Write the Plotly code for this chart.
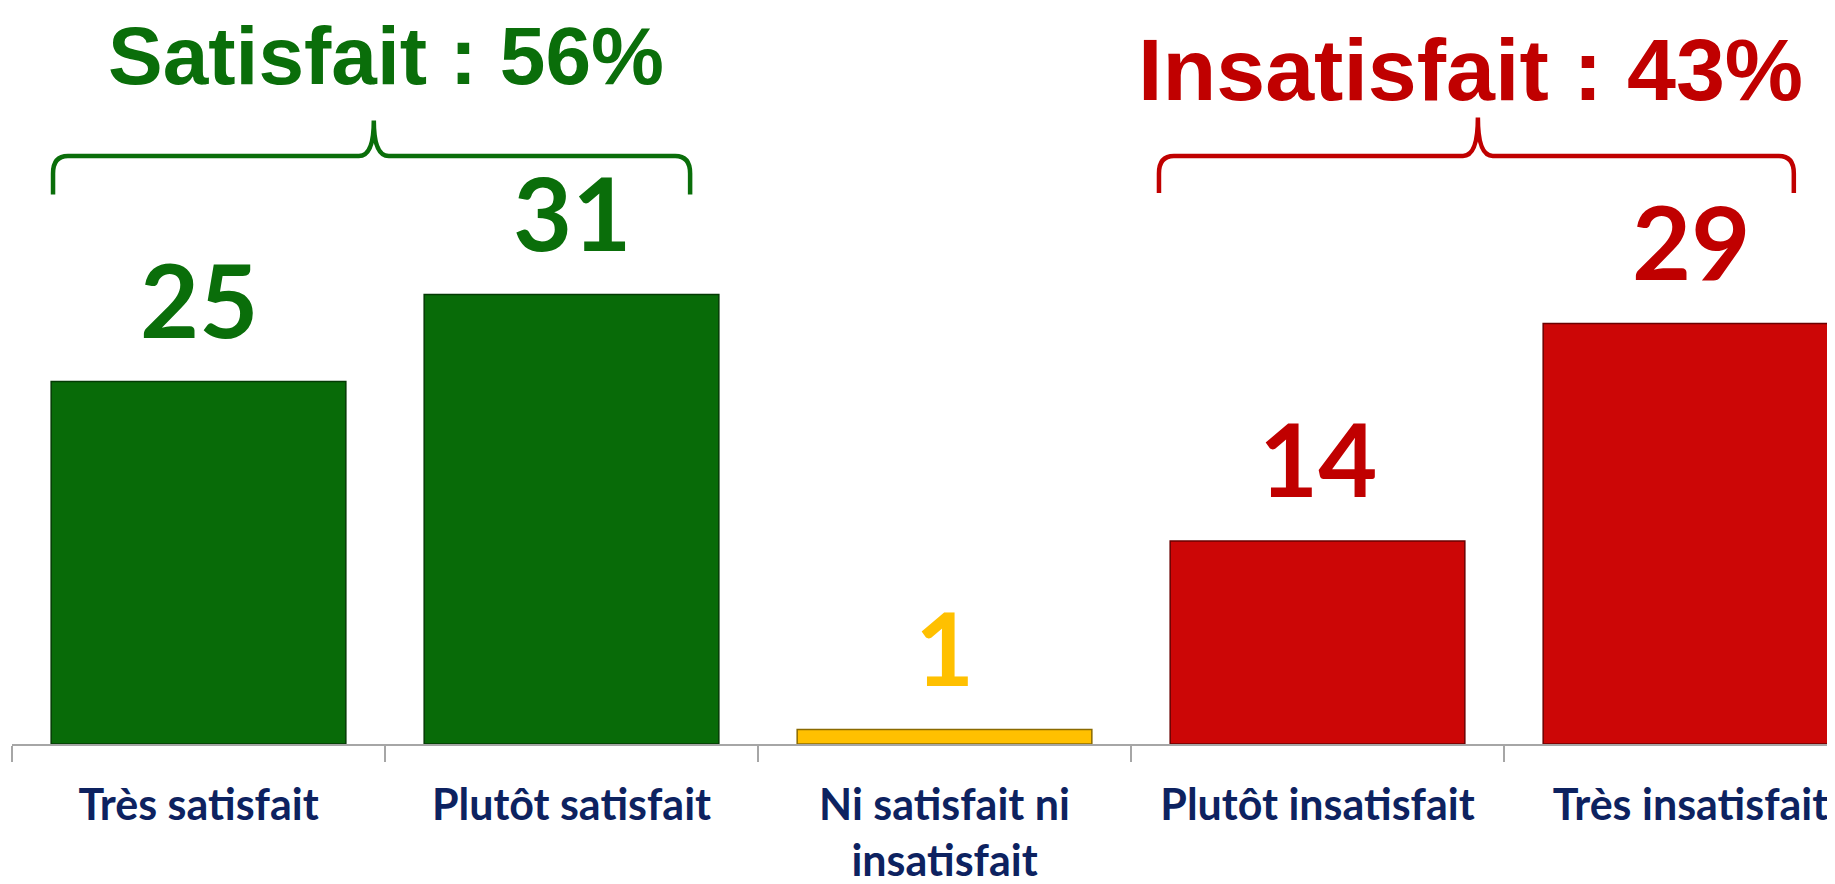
import plotly.graph_objects as go

categories = ["Très satisfait", "Plutôt satisfait", "Ni satisfait ni<br>insatisfait",
              "Plutôt insatisfait", "Très insatisfait"]
values = [25, 31, 1, 14, 29]
bar_colors = ["#086b08", "#086b08", "#ffc000", "#cc0606", "#cc0606"]
label_colors = ["#0a6e0a", "#0a6e0a", "#ffc000", "#c00000", "#c00000"]
edge_colors = ["#043a04", "#043a04", "#8a6a00", "#6a0000", "#6a0000"]
group_titles = ["Satisfait : 56%", "Insatisfait : 43%"]
group_colors = ["#0a6e0a", "#c00000"]

# page has an 8px body margin; figure sized to fill the rest of the window
PAGE_OFF = 8
W, H = 1835 - PAGE_OFF, 884 - PAGE_OFF
L = 12 - PAGE_OFF
AXIS_PAGE_Y = 744
B = H - (AXIS_PAGE_Y - PAGE_OFF)
cat_px = 373.0
px_per_unit = 14.5
plot_h = H - B
x_pos = list(range(len(categories)))

fig = go.Figure()
fig.add_trace(go.Bar(
    x=x_pos, y=values, width=0.79,
    marker=dict(color=bar_colors, line=dict(color=edge_colors, width=1.5)),
    hoverinfo="skip",
))

annotations = []
for xi, v, c in zip(x_pos, values, label_colors):
    annotations.append(dict(
        x=xi, y=v, xref="x", yref="y", text=str(v), showarrow=False,
        yanchor="bottom", yshift=20,
        font=dict(family="Lato", size=102, color=c, weight="bold"),
    ))

annotations.append(dict(x=0.503, y=1, xref="x", yref="paper", text=group_titles[0],
                        showarrow=False, yanchor="top",
                        font=dict(family="Liberation Sans", size=82, color=group_colors[0], weight="bold")))
annotations.append(dict(x=3.409, y=1, xref="x", yref="paper", text=group_titles[1],
                        showarrow=False, yanchor="top", yshift=-10,
                        font=dict(family="Liberation Sans", size=88, color=group_colors[1], weight="bold")))

def bracket(x0, x1, xm, yb, yh, yp, color):
    r = 0.04
    dy = 1.2
    path = (f"M {x0},{yb} L {x0},{yh-dy} Q {x0},{yh} {x0+r},{yh} "
            f"L {xm-r},{yh} Q {xm},{yh} {xm},{yp} "
            f"Q {xm},{yh} {xm+r},{yh} L {x1-r},{yh} Q {x1},{yh} {x1},{yh-dy} L {x1},{yb}")
    return dict(type="path", path=path, xref="x", yref="y",
                line=dict(color=color, width=4.5), layer="above")

shapes = [
    bracket(-0.39, 1.318, 0.47, 37.9, 40.55, 43.0, "#0a6e0a"),
    bracket(2.575, 4.277, 3.43, 38.0, 40.55, 43.2, "#c00000"),
]

fig.update_layout(
    width=W, height=H,
    margin=dict(l=L, r=0, t=0, b=B, autoexpand=False),
    plot_bgcolor="white", paper_bgcolor="white",
    showlegend=False,
    annotations=annotations,
    shapes=shapes,
    xaxis=dict(
        range=[-0.5, -0.5 + (W - L) / cat_px],
        tickmode="array", tickvals=x_pos, ticktext=categories,
        tickfont=dict(family="Lato", size=43, color="#0d2260", weight="bold"),
        showline=True, linecolor="#a6a6a6", linewidth=2,
        ticks="", showgrid=False, zeroline=False, automargin=False,
    ),
    yaxis=dict(range=[0, plot_h / px_per_unit], visible=False, showgrid=False, zeroline=False),
)

fig.update_xaxes(minor=dict(tickmode="array", tickvals=[i - 0.5 for i in x_pos] + [len(x_pos) - 0.5],
                            ticks="outside", ticklen=16, tickcolor="#a6a6a6", tickwidth=2),
                 ticklabelstandoff=22)

fig.write_html("out.html")
